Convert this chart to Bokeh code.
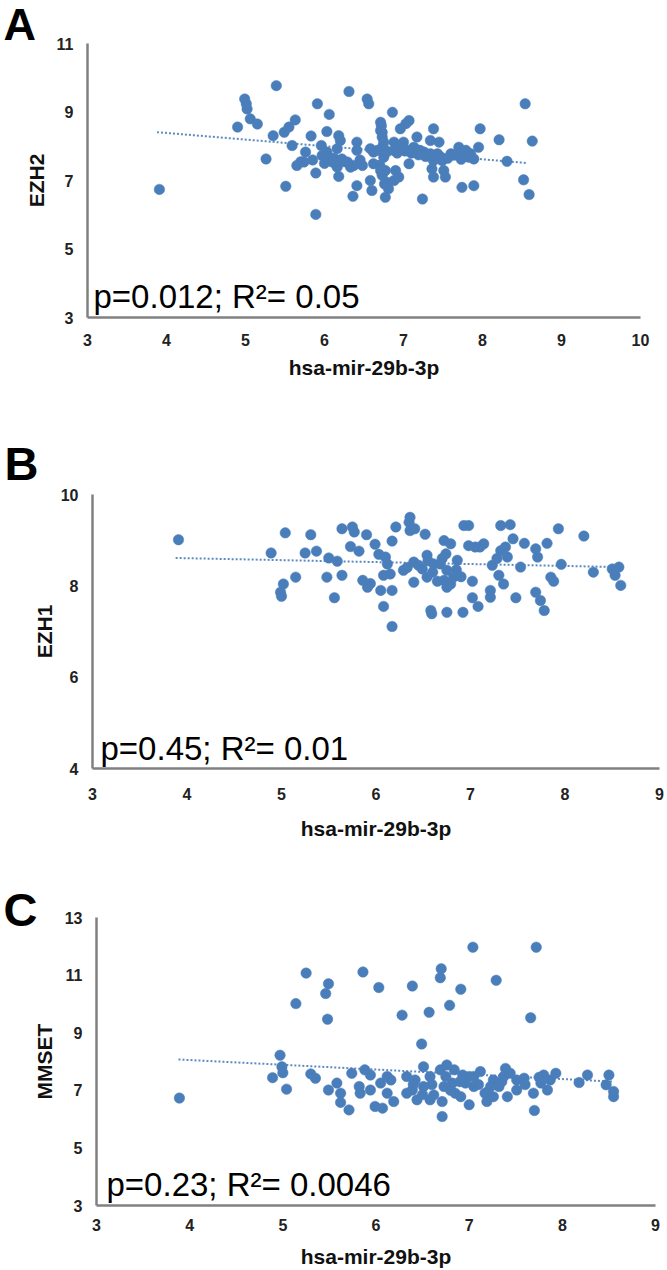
from bokeh.plotting import figure
from bokeh.models import Range1d, FixedTicker
from bokeh.core.properties import value
from bokeh.embed import file_html
from bokeh.resources import INLINE

# ---------------- data ----------------
# Panel A: hsa-mir-29b-3p vs EZH2
mir_a = [3.91, 5.39, 4.99, 5.01, 5.02, 5.06, 5.15, 4.90, 5.26, 5.35, 5.49, 5.55, 5.63, 5.51, 5.59,
         5.65, 5.74, 5.76, 5.83, 5.89, 5.89, 5.91, 5.96, 6.03, 6.06, 6.18, 6.20, 6.06, 6.10, 6.16,
         6.18, 6.22, 6.31, 6.41, 6.41, 6.37, 6.41, 6.36, 6.48, 6.54, 6.56, 6.58, 6.60, 6.62, 6.71,
         6.73, 6.75, 6.75, 6.77, 6.79, 6.77, 6.81, 6.86, 6.88, 6.90, 6.94, 6.96, 7.03, 7.07, 6.96,
         7.05, 7.07, 7.17, 7.24, 7.21, 7.30, 7.38, 7.34, 7.36, 7.38, 7.45, 7.49, 7.53, 7.60, 7.70,
         7.74, 7.83, 7.89, 7.95, 7.97, 8.21, 8.31, 8.54, 8.63, 8.52, 8.59, 6.58, 6.67, 6.88, 7.00,
         7.13, 7.26, 7.43, 7.68, 7.79, 7.85, 6.29, 6.33, 6.62, 6.03, 5.97, 6.71, 6.88, 7.34, 7.51,
         6.16, 6.71, 6.73, 7.89, 7.38,
         6.80, 6.92, 7.02, 7.10, 7.19, 7.28, 7.40, 7.47, 7.56, 7.64, 7.73, 7.80, 6.98, 7.15,
         5.70, 5.85, 6.00, 6.12, 6.25, 6.45, 6.72, 6.74, 6.70, 6.73, 6.76]
ezh2 = [6.74, 9.77, 9.38, 9.24, 9.09, 8.80, 8.65, 8.56, 7.63, 8.31, 8.41, 8.56, 8.77, 6.83, 8.02,
        7.44, 7.54, 7.83, 8.30, 7.22, 6.01, 9.24, 8.02, 8.43, 8.93, 8.31, 8.17, 7.68, 7.54, 7.39,
        7.12, 7.63, 9.60, 8.12, 7.88, 7.44, 6.85, 6.54, 7.44, 9.38, 9.24, 7.00, 6.71, 7.83, 8.70,
        8.41, 8.12, 7.68, 7.29, 6.95, 6.51, 6.76, 8.99, 7.88, 7.29, 7.10, 8.51, 8.66, 8.75, 7.97,
        7.88, 7.49, 8.27, 6.46, 7.88, 7.73, 8.51, 8.17, 7.34, 7.10, 8.12, 7.58, 7.10, 7.78, 7.97,
        6.80, 7.68, 6.85, 7.97, 8.51, 8.19, 7.56, 9.24, 8.15, 7.02, 6.59, 7.93, 7.88, 8.12, 8.12,
        7.97, 7.83, 7.78, 7.78, 7.88, 7.78, 7.54, 7.39, 7.49, 7.83, 7.73, 7.29, 7.00, 7.78, 7.29,
        7.93, 8.46, 8.27, 7.63, 7.58,
        7.85, 7.80, 7.86, 7.80, 7.75, 7.70, 7.74, 7.69, 7.65, 7.74, 7.62, 7.70, 7.95, 7.92,
        7.55, 7.60, 7.50, 7.65, 7.55, 7.60, 8.60, 8.00, 7.45, 7.15, 6.90]
trend_x_a = [3.88, 8.57]
trend_y_a = [8.41, 7.51]

# Panel B: hsa-mir-29b-3p vs EZH1
mir_b = [3.91, 5.04, 5.31, 5.64, 5.75, 5.77, 5.90, 6.21, 6.35, 6.36, 6.52, 6.93, 6.98, 7.32, 7.42,
         7.93, 8.20, 4.89, 5.25, 5.37, 5.02, 4.99, 5.00, 5.15, 5.50, 5.59, 5.48, 5.64, 5.56, 5.73,
         5.82, 5.99, 6.17, 6.03, 6.10, 6.12, 5.86, 5.91, 5.94, 6.05, 6.17, 6.08, 6.15, 6.08, 6.17,
         6.29, 6.40, 6.40, 6.49, 6.54, 6.54, 6.58, 6.59, 6.75, 6.92, 6.72, 6.79, 6.74, 6.68, 6.75,
         6.72, 6.79, 6.75, 6.86, 6.98, 7.05, 7.14, 7.02, 7.02, 7.08, 7.21, 7.21, 7.23, 7.30, 7.35,
         7.32, 7.39, 7.45, 7.53, 7.48, 7.57, 7.69, 7.71, 7.69, 7.74, 7.78, 7.81, 7.85, 7.88, 7.96,
         8.30, 8.50, 8.57, 8.53, 8.59, 6.82, 6.61, 7.37, 6.36, 6.41,
         6.45, 6.60, 6.70, 6.85, 6.55, 6.65, 7.10, 7.28, 6.33, 6.90]
ezh1 = [9.01, 9.16, 9.12, 9.25, 9.29, 9.18, 9.12, 9.29, 9.39, 9.21, 9.13, 9.32, 9.32, 9.32, 9.34,
        9.25, 9.09, 8.72, 8.72, 8.76, 8.04, 7.86, 7.77, 8.19, 8.61, 8.54, 8.19, 8.23, 7.74, 8.86,
        8.76, 8.91, 8.98, 8.69, 8.63, 8.48, 8.12, 7.97, 8.05, 7.90, 7.90, 8.23, 8.26, 7.55, 7.11,
        8.34, 8.52, 8.08, 8.37, 8.67, 8.19, 7.46, 7.39, 7.42, 7.42, 8.99, 8.92, 8.70, 8.48, 8.34,
        8.12, 8.04, 7.97, 8.56, 8.88, 8.85, 8.92, 8.10, 7.74, 7.55, 7.90, 7.75, 8.45, 8.23, 8.04,
        8.77, 8.63, 9.03, 8.41, 7.74, 8.93, 8.81, 8.63, 7.86, 7.68, 7.46, 8.93, 8.19, 8.10, 8.47,
        8.30, 8.37, 8.41, 8.23, 8.01, 8.19, 8.48, 8.85, 9.50, 9.25,
        8.45, 8.30, 8.60, 8.35, 8.55, 8.10, 8.85, 8.60, 8.40, 8.20]
trend_x_b = [3.88, 8.59]
trend_y_b = [8.61, 8.41]

# Panel C: hsa-mir-29b-3p vs MMSET
mir_c = [3.89, 5.25, 5.86, 5.49, 5.46, 5.14, 5.48, 6.03, 6.39, 6.70, 6.69, 6.91, 7.04, 7.29, 7.72,
         6.28, 6.57, 6.79, 7.66, 6.49, 4.97, 4.99, 5.00, 4.89, 5.04, 5.30, 5.35, 5.49, 5.58, 5.62,
         5.62, 5.71, 5.74, 5.82, 5.88, 5.94, 5.83, 5.99, 6.07, 6.05, 6.12, 6.16, 6.19, 6.33, 6.39,
         6.44, 6.51, 6.51, 6.58, 6.62, 6.71, 6.71, 6.73, 6.76, 6.75, 6.82, 6.85, 6.93, 6.96, 7.00,
         7.05, 7.12, 7.17, 7.19, 7.26, 7.32, 7.39, 7.41, 7.37, 7.51, 7.59, 7.69, 7.70, 7.77, 7.80,
         7.84, 7.93, 8.18, 8.27, 8.50, 8.47, 8.55, 8.55, 7.00, 6.84, 7.26, 6.33, 6.58, 6.91, 7.51,
         7.44, 5.94, 6.12, 7.87, 6.69, 7.05, 7.23, 6.42,
         6.60, 6.80, 6.90, 7.10, 7.20, 7.35, 6.50, 6.40, 7.60, 7.75]
mmset = [6.73, 11.07, 11.11, 10.70, 10.36, 10.01, 9.47, 10.57, 10.62, 11.22, 10.91, 10.51, 11.97,
         10.82, 11.97, 9.61, 9.71, 9.95, 9.52, 8.61, 8.22, 7.82, 7.61, 7.44, 7.04, 7.57, 7.42, 7.01,
         7.25, 6.90, 6.58, 6.32, 7.59, 7.13, 7.71, 7.53, 6.90, 6.44, 6.38, 7.25, 6.90, 7.36, 6.61,
         7.48, 7.01, 6.67, 7.82, 7.13, 7.48, 6.84, 6.09, 6.61, 7.13, 7.88, 7.48, 7.25, 6.90, 7.53,
         7.25, 6.50, 7.13, 7.65, 6.90, 6.61, 7.36, 7.13, 7.76, 6.78, 7.48, 7.36, 7.42, 6.90, 6.30,
         7.25, 7.53, 7.01, 7.59, 7.27, 7.53, 7.53, 7.19, 6.96, 6.78, 7.48, 7.71, 6.78, 6.90, 6.67,
         6.78, 7.01, 7.59, 7.01, 7.48, 7.36, 7.71, 7.48, 7.13, 7.36,
         7.20, 7.00, 7.30, 7.20, 6.95, 7.30, 6.85, 7.20, 7.20, 7.45]
trend_x_c = [3.88, 8.55]
trend_y_c = [8.07, 7.30]

x_title = "hsa-mir-29b-3p"
x_ticks_a = [3, 4, 5, 6, 7, 8, 9, 10]
y_ticks_a = [3, 5, 7, 9, 11]
x_ticks_bc = [3, 4, 5, 6, 7, 8, 9]
y_ticks_b = [4, 6, 8, 10]
y_ticks_c = [3, 5, 7, 9, 11, 13]

DOT = "#4a7ebb"
AXIS = "#808080"
FONT = "Liberation Sans"
W = 667


def panel(xs, ys, tx, ty, xr, yr, xt, yt, ylab, letter, stat,
          H, bl, br, bt, bb, tick_so_x, title_so_x, title_so_y,
          letter_off, letter_so, letter_size, stat_dx, stat_dy):
    p = figure(width=W, height=H, x_range=Range1d(*xr), y_range=Range1d(*yr),
               output_backend="svg", toolbar_location=None,
               min_border_left=bl, min_border_right=br,
               min_border_top=bt, min_border_bottom=bb)
    p.outline_line_color = None
    p.xgrid.visible = False
    p.ygrid.visible = False
    p.background_fill_color = "white"
    p.border_fill_color = "white"

    # panel letter as the plot title
    p.title.text = letter
    p.title.align = "left"
    p.title.vertical_align = "bottom"
    p.title.offset = letter_off
    p.title.standoff = letter_so
    p.title.text_font = FONT
    p.title.text_font_style = "bold"
    p.title.text_font_size = letter_size
    p.title.text_color = "black"

    p.line(tx, ty, line_color=DOT, line_width=2, line_dash="2 2", line_alpha=0.9)
    p.scatter(xs, ys, size=10.5, fill_color=DOT, line_color=DOT, line_width=0.5)

    for ax in (p.xaxis[0], p.yaxis[0]):
        ax.axis_line_color = AXIS
        ax.axis_line_width = 2.5
        ax.major_tick_line_color = None
        ax.minor_tick_line_color = None
        ax.major_tick_out = 0
        ax.major_tick_in = 0
        ax.major_label_text_font = FONT
        ax.major_label_text_font_style = "bold"
        ax.major_label_text_font_size = "16px"
        ax.major_label_text_color = "#222222"
        ax.axis_label_text_font = FONT
        ax.axis_label_text_font_style = "bold"
        ax.axis_label_text_font_size = "21px"
        ax.axis_label_text_color = "#111111"

    p.xaxis.ticker = FixedTicker(ticks=xt)
    p.yaxis.ticker = FixedTicker(ticks=yt)
    p.xaxis.axis_label = x_title
    p.yaxis.axis_label = ylab
    p.xaxis.major_label_standoff = tick_so_x
    p.yaxis.major_label_standoff = 14
    p.xaxis.axis_label_standoff = title_so_x
    p.yaxis.axis_label_standoff = title_so_y

    # statistics text, placed a few pixels inside the lower-left corner
    fw = W - bl - br
    fh = H - bt - bb
    sx = xr[0] + stat_dx * (xr[1] - xr[0]) / fw
    sy = yr[0] + stat_dy * (yr[1] - yr[0]) / fh
    p.text(x=[sx], y=[sy], text=[stat], text_font=value(FONT), text_font_size="33px",
           text_baseline="alphabetic", text_align="left", text_color="black")
    return p


pa = panel(mir_a, ezh2, trend_x_a, trend_y_a, (3, 10), (3, 11), x_ticks_a, y_ticks_a,
           "EZH2", "A", "p=0.012; R²= 0.05",
           H=430, bl=87, br=27, bt=43, bb=113, tick_so_x=16, title_so_x=7, title_so_y=6,
           letter_off=-84, letter_so=-12, letter_size="45px", stat_dx=6, stat_dy=21)
pb = panel(mir_b, ezh1, trend_x_b, trend_y_b, (3, 9), (4, 10), x_ticks_bc, y_ticks_b,
           "EZH1", "B", "p=0.45; R²= 0.01",
           H=430, bl=92, br=8, bt=64, bb=92, tick_so_x=19, title_so_x=14, title_so_y=2,
           letter_off=-88, letter_so=9, letter_size="47px", stat_dx=8, stat_dy=20)
pc = panel(mir_c, mmset, trend_x_c, trend_y_c, (3, 9), (3, 13), x_ticks_bc, y_ticks_c,
           "MMSET", "C", "p=0.23; R²= 0.0046",
           H=410, bl=96, br=12, bt=57, bb=64, tick_so_x=13, title_so_x=11, title_so_y=6,
           letter_off=-93, letter_so=-37, letter_size="47px", stat_dx=10, stat_dy=21)

open("out.html", "w").write(file_html([pa, pb, pc], INLINE))
